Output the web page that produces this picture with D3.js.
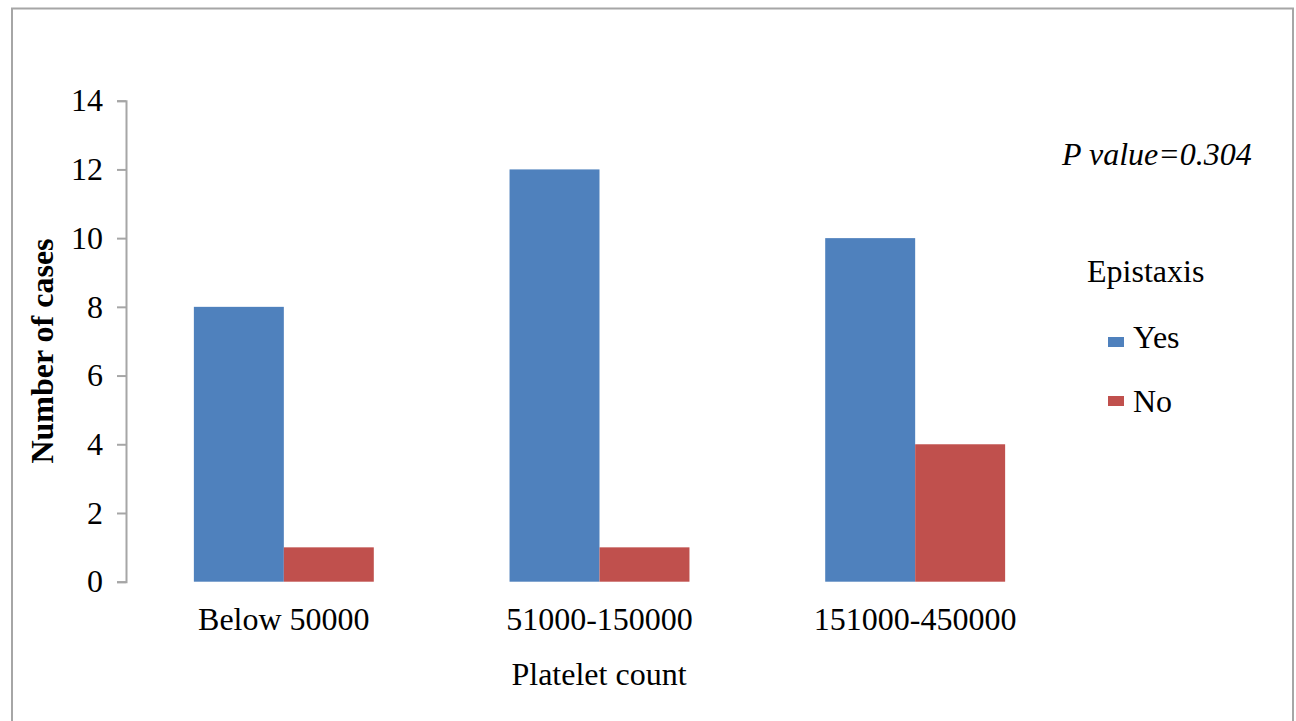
<!DOCTYPE html>
<html>
<head>
<meta charset="utf-8">
<script src="https://cdn.jsdelivr.net/npm/d3@7"></script>
<style>
  html, body { margin: 0; padding: 0; background: #fff; }
  svg { display: block; }
  text { font-family: "Liberation Serif", "Times New Roman", serif; fill: #000; }
</style>
</head>
<body>
<svg id="chart" width="1296" height="721"></svg>
<script>
const categories = ["Below 50000", "51000-150000", "151000-450000"];
const seriesNames = ["Yes", "No"];
const yesValues = [8, 12, 10];
const noValues = [1, 1, 4];
const yTicks = [0, 2, 4, 6, 8, 10, 12, 14];
const colors = ["#4f81bd", "#c0504d"];

const data = categories.map((c, i) => ({ cat: c, vals: [
  { s: seriesNames[0], v: yesValues[i] },
  { s: seriesNames[1], v: noValues[i] }
]}));

const svg = d3.select("#chart");

// outer border
svg.append("rect")
  .attr("x", 12).attr("y", 8.5)
  .attr("width", 1281).attr("height", 760)
  .attr("fill", "none").attr("stroke", "#a6a6a6").attr("stroke-width", 2);

const y = d3.scaleLinear().domain([0, 14]).range([581.7, 100.7]);
const x0 = d3.scaleBand().domain(categories).range([126, 1073])
  .paddingInner(0.43).paddingOuter(0.215);
const x1 = d3.scaleBand().domain(seriesNames).range([0, x0.bandwidth()]).padding(0);
const color = d3.scaleOrdinal().domain(seriesNames).range(colors);

// bars
const g = svg.append("g");
g.selectAll("g.grp").data(data).join("g")
  .attr("class", "grp")
  .attr("transform", d => `translate(${x0(d.cat)},0)`)
  .selectAll("rect").data(d => d.vals).join("rect")
  .attr("x", d => x1(d.s))
  .attr("width", x1.bandwidth())
  .attr("y", d => y(d.v))
  .attr("height", d => y(0) - y(d.v))
  .attr("fill", d => color(d.s));

// y axis
const yAxis = d3.axisLeft(y).tickValues(yTicks).tickSize(9).tickPadding(14);
const ya = svg.append("g").attr("transform", "translate(126,0)").call(yAxis);
ya.attr("font-family", null);
ya.select(".domain").attr("stroke", "#a6a6a6").attr("stroke-width", 2);
ya.selectAll(".tick line").attr("stroke", "#a6a6a6").attr("stroke-width", 2);
ya.selectAll(".tick text")
  .style("font-family", "'Liberation Serif', 'Times New Roman', serif")
  .style("font-size", "32px").attr("fill", "#000");

// x category labels
const xAxis = d3.axisBottom(x0).tickSize(0).tickPadding(0);
const xa = svg.append("g").attr("transform", "translate(0,581.7)").call(xAxis);
xa.attr("font-family", null);
xa.select(".domain").remove();
xa.selectAll(".tick text")
  .attr("dy", null).attr("y", 48)
  .style("font-family", "'Liberation Serif', 'Times New Roman', serif")
  .style("font-size", "32px").attr("fill", "#000");

// axis titles
svg.append("text")
  .attr("transform", "translate(53,351) rotate(-90)")
  .attr("text-anchor", "middle")
  .style("font-size", "32px").style("font-weight", "bold")
  .text("Number of cases");

svg.append("text")
  .attr("x", 599).attr("y", 685)
  .attr("text-anchor", "middle")
  .style("font-size", "32px")
  .text("Platelet count");

// p value
svg.append("text")
  .attr("x", 1062).attr("y", 165)
  .style("font-size", "32px").style("font-style", "italic")
  .text("P value=0.304");

// legend
svg.append("text")
  .attr("x", 1087).attr("y", 282)
  .style("font-size", "32px")
  .text("Epistaxis");

const leg = svg.append("g").selectAll("g").data(seriesNames).join("g");
leg.append("rect")
  .attr("x", 1108).attr("y", (d, i) => 337 + i * 59)
  .attr("width", 16).attr("height", 10).attr("fill", d => color(d));
leg.append("text")
  .attr("x", 1133).attr("y", (d, i) => 348 + i * 64)
  .style("font-size", "32px").text(d => d);
</script>
</body>
</html>
